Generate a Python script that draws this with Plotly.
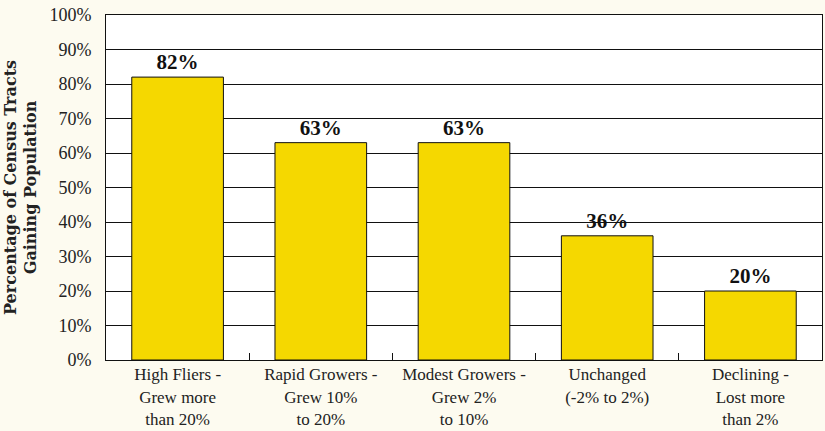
import plotly.graph_objects as go

categories = ["High Fliers -<br>Grew more<br>than 20%", "Rapid Growers -<br>Grew 10%<br>to 20%",
              "Modest Growers -<br>Grew 2%<br>to 10%", "Unchanged<br>(-2% to 2%)",
              "Declining -<br>Lost more<br>than 2%"]
values = [82, 63, 63, 36, 20]
labels = ["82%", "63%", "63%", "36%", "20%"]
tick_vals = [0, 10, 20, 30, 40, 50, 60, 70, 80, 90, 100]
tick_text = ["0%", "10%", "20%", "30%", "40%", "50%", "60%", "70%", "80%", "90%", "100%"]

serif = "Liberation Serif"

fig = go.Figure(go.Bar(
    x=categories, y=values, text=labels, textposition="outside",
    textfont=dict(family=serif, size=21, color="#111111"),
    texttemplate="<b>%{text}</b>",
    marker=dict(color="#F5D800", line=dict(color="#111111", width=1)),
    width=0.64, cliponaxis=False,
))

fig.update_layout(
    width=825, height=431,
    margin=dict(l=106, r=3, t=15, b=71),
    paper_bgcolor="#FDFBF0", plot_bgcolor="#FFFFFF",
    showlegend=False,
    font=dict(family=serif, size=18, color="#222222"),
)
fig.update_xaxes(
    showline=True, linecolor="#111111", linewidth=1, mirror=True,
    ticks="inside", tickson="boundaries", ticklen=7, tickcolor="#111111",
    tickfont=dict(family=serif, size=17, color="#222222"),
    showgrid=False, automargin=False, ticklabelstandoff=-1,
)
fig.update_yaxes(
    range=[0, 100], tickvals=tick_vals, ticktext=tick_text,
    showline=True, linecolor="#111111", linewidth=1, mirror=True,
    showgrid=True, gridcolor="#111111", gridwidth=1,
    ticks="", ticklabelstandoff=10, automargin=False,
    tickfont=dict(family=serif, size=18, color="#222222"),
    title=dict(text="<b>Percentage of Census Tracts<br>Gaining Population</b>",
               font=dict(family="DejaVu Serif", size=16, color="#222222"), standoff=8),
)
fig.write_html("out.html")
